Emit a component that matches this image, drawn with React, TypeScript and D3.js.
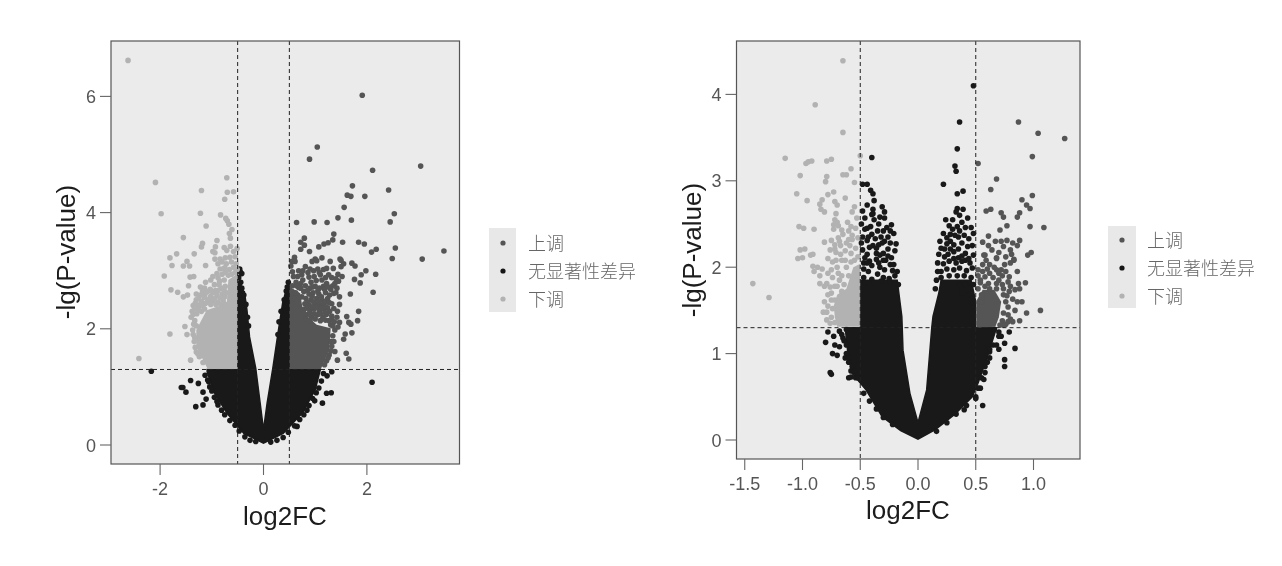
import React from "react";
import * as d3 from "d3";

type P = [number, number];

const legendLabels = ["上调", "无显著性差异", "下调"];
const tickXA = [-2, 0, 2];
const tickYA = [0, 2, 4, 6];
const tickXB = [-1.5, -1.0, -0.5, 0, 0.5, 1.0];
const tickYB = [0, 1, 2, 3, 4];

// ---------- Panel A: dense cores (visual envelope of the overplotted dots)
const coreNsA: P[] = [[-0.5,2.73],[-0.37,2.64],[-0.32,2.32],[-0.27,1.86],[-0.15,1.32],[-0.065,0.72],[0,0.26],[0.07,0.72],[0.18,1.32],[0.29,1.98],[0.37,2.44],[0.48,2.81],[0.5,2.78],[0.5,1.3],[1.1,1.3],[1.0,0.95],[0.76,0.56],[0.38,0.2],[0,0.03],[-0.38,0.2],[-0.7,0.54],[-0.95,0.89],[-1.09,1.26],[-1.09,1.3],[-0.5,1.3]];
const coreUpA: P[] = [[0.5,2.73],[0.71,2.61],[0.77,2.27],[1.03,2.07],[1.3,2.01],[1.27,1.64],[1.11,1.31],[0.5,1.31]];
const coreDownA: P[] = [[-0.5,2.95],[-0.68,2.84],[-0.71,2.44],[-1.1,2.32],[-1.3,1.98],[-1.3,1.69],[-1.08,1.31],[-0.5,1.31]];

const upA: P[] = [[1.91,6.02],[1.04,5.13],[0.89,4.92],[3.04,4.8],[2.11,4.73],[1.72,4.46],[2.42,4.39],[1.62,4.3],[1.69,4.28],[1.96,4.28],[1.56,4.09],[2.53,3.98],[1.44,3.91],[1.7,3.87],[2.45,3.84],[0.64,3.83],[0.98,3.84],[1.23,3.83],[1.36,3.63],[1.34,3.53],[0.79,3.56],[0.72,3.49],[0.79,3.44],[0.72,3.37],[0.89,3.33],[1.07,3.41],[1.17,3.46],[1.25,3.48],[1.53,3.49],[1.84,3.49],[1.95,3.46],[2.09,3.32],[2.18,3.37],[2.55,3.39],[3.49,3.34],[2.49,3.21],[3.07,3.2],[0.6,3.23],[1.0,3.2],[1.13,3.22],[1.48,3.2],
[0.55,3.16],[0.53,3.08],[0.61,3.16],[0.81,3.07],[0.94,3.16],[1.03,3.17],[1.29,3.16],[1.5,3.18],[1.55,3.12],[1.35,3.04],[1.5,3.07],[1.71,3.13],[1.77,3.08],[1.98,3.0],[1.89,2.93],[2.17,2.94],[1.76,2.85],[1.87,2.79],[2.12,2.63],[1.68,2.6],[1.47,2.55],[1.84,2.3],[1.61,2.21],[1.82,2.14],[1.65,2.11],[1.69,2.08],[1.47,2.11],[1.71,1.93],[1.58,1.91],[1.55,1.82],[1.38,1.61],[1.6,1.58],[1.43,1.46],[1.65,1.48],
[0.56,2.98],[0.68,3.0],[0.58,2.9],[0.74,2.93],[0.86,2.97],[0.97,3.0],[1.05,3.03],[1.16,3.02],[1.22,3.04],[0.88,2.89],[0.98,2.9],[1.1,2.93],[1.26,2.93],[1.32,2.88],[1.44,2.94],[1.52,2.9],[0.63,2.8],[0.76,2.84],[0.92,2.8],[1.02,2.83],[1.13,2.84],[1.22,2.78],[1.38,2.78],[1.45,2.82],[0.56,2.74],[0.68,2.71],[0.81,2.74],[0.9,2.7],[1.0,2.73],[1.08,2.7],[1.16,2.73],[1.3,2.68],[1.42,2.7],[0.78,2.64],[0.88,2.6],[0.96,2.62],[1.07,2.6],[1.2,2.62],[1.28,2.58],[1.36,2.61],[0.82,2.52],[0.92,2.5],[1.03,2.52],[1.13,2.5],[1.24,2.52],[0.8,2.43],[0.88,2.41],[1.0,2.42],[1.1,2.41],[1.17,2.44],[1.32,2.43],[1.47,2.42],[0.79,2.34],[0.9,2.32],[0.98,2.34],[1.08,2.3],[1.16,2.34],[1.24,2.36],[1.36,2.35],[1.43,2.3],[0.84,2.24],[0.93,2.2],[1.05,2.24],[1.15,2.2],[1.22,2.25],[1.32,2.22],[1.42,2.2],[1.37,2.12],[1.3,2.07],[1.38,1.98],[1.34,1.88],[1.3,1.78],[1.32,1.7],[1.27,1.55],[1.22,1.45],[1.18,1.38],[1.34,2.05],
[0.62,2.62],[0.58,2.52],[0.72,2.78],[0.66,2.9],[0.85,2.66],[0.74,2.55],[0.95,2.72],[1.05,2.65],[1.12,2.55],[1.18,2.68],[1.26,2.72],[1.34,2.74],[1.4,2.62],[0.94,2.56],[0.86,2.45],[0.97,2.46],[1.07,2.46],[1.2,2.47],[1.27,2.45],[0.84,2.36],[0.94,2.38],[1.03,2.37],[1.12,2.36],[1.2,2.38],[0.78,2.27],[0.89,2.27],[0.98,2.26],[1.1,2.26],[1.19,2.28],[1.28,2.3],[0.82,2.17],[0.9,2.14],[1.0,2.17],[1.1,2.14],[1.2,2.15],[1.27,2.14],[1.32,2.16],[1.44,2.03],[1.36,1.78],[1.3,1.62],[1.25,1.5],[0.72,2.7],[0.76,3.0],[0.9,3.03],[1.08,2.97],[1.2,2.88],[1.4,2.86],[0.64,2.74]];

const downA: P[] = [[-2.62,6.62],[-2.09,4.52],[-1.98,3.98],[-1.2,4.38],[-1.22,3.99],[-0.71,4.6],[-0.7,4.35],[-0.58,4.36],[-0.75,4.23],[-0.83,3.96],[-0.73,3.9],[-0.7,3.86],[-0.67,3.8],[-1.11,3.77],[-0.61,3.71],[-0.66,3.64],[-0.64,3.56],[-1.55,3.57],[-0.9,3.52],[-1.18,3.47],[-1.2,3.41],[-0.93,3.41],[-0.98,3.33],[-0.94,3.31],[-0.76,3.4],[-0.71,3.35],[-0.64,3.42],[-0.58,3.33],[-0.51,3.38],[-1.34,3.29],[-1.68,3.29],[-1.81,3.22],[-0.94,3.2],[-0.84,3.2],[-0.74,3.22],[-0.65,3.23],[-0.55,3.24],
[-1.48,3.16],[-1.55,3.08],[-1.43,3.08],[-1.77,3.09],[-1.12,3.09],[-1.92,2.91],[-1.42,2.89],[-1.35,2.9],[-1.79,2.67],[-1.66,2.63],[-1.45,2.74],[-1.55,2.55],[-1.47,2.58],[-1.81,1.91],[-1.52,2.04],[-1.48,1.9],[-1.41,1.46],[-2.41,1.49],
[-0.88,3.12],[-0.8,3.15],[-0.72,3.12],[-0.62,3.15],[-0.53,3.12],[-0.84,3.03],[-0.75,3.05],[-0.66,3.02],[-0.58,3.06],[-0.51,3.02],[-0.9,2.95],[-0.8,2.94],[-0.73,2.97],[-1.02,2.84],[-1.12,2.8],[-0.95,2.76],[-0.85,2.82],[-0.76,2.84],[-1.22,2.72],[-1.14,2.7],[-1.03,2.68],[-0.93,2.66],[-0.82,2.7],[-0.74,2.73],[-1.3,2.6],[-1.22,2.58],[-1.13,2.6],[-1.02,2.56],[-0.9,2.58],[-0.8,2.6],[-0.75,2.55],[-1.3,2.5],[-1.2,2.47],[-1.08,2.48],[-0.98,2.48],[-0.88,2.45],[-0.78,2.48],[-1.36,2.4],[-1.26,2.38],[-1.17,2.4],[-1.38,2.3],[-1.29,2.26],[-1.2,2.3],[-1.4,2.2],[-1.33,2.14],[-1.3,2.05],[-1.36,1.9],[-1.34,1.78],[-1.3,1.6],[-1.24,1.52],[-1.17,1.42],
[-0.98,2.9],[-0.88,2.88],[-0.78,3.03],[-0.86,2.76],[-0.98,2.62],[-1.08,2.64],[-1.18,2.65],[-0.88,2.66],[-0.76,2.66],[-0.72,2.62],[-0.84,2.53],[-0.94,2.52],[-1.04,2.52],[-1.14,2.54],[-1.25,2.53],[-1.12,2.44],[-1.02,2.42],[-0.92,2.42],[-0.82,2.42],[-0.74,2.42],[-1.22,2.42],[-1.32,2.44],[-1.33,2.34],[-1.25,2.33],[-1.14,2.34],[-1.36,2.25],[-1.35,2.08],[-1.37,1.98],[-1.33,1.85],[-1.32,1.68],[-1.27,1.57],[-0.68,2.92],[-0.62,2.94],[-0.55,2.97]];

const nsTopA: P[] = [[-0.46,3.03],[-0.45,2.98],[-0.42,2.95],[-0.48,2.88],[-0.44,2.8],[-0.47,2.76],[-0.42,2.7],[-0.38,2.58],[-0.34,2.42],[-0.31,2.2],[-0.29,2.05],[0.4,2.5],[0.44,2.65],[0.46,2.72],[0.48,2.8],[0.34,2.3],[0.3,2.12],[0.28,1.9]];
const nsEdgeA: P[] = [[-2.17,1.27],[-1.41,1.11],[-1.59,0.99],[-1.56,0.99],[-1.5,0.91],[-1.26,1.06],[-1.17,0.91],[-1.11,0.79],[-1.17,0.69],[-1.31,0.66],[-0.88,0.69],[-1.06,1.09],[-1.13,1.2],[-1.08,1.12],[-1.04,1.0],[-1.0,0.93],[-0.95,0.82],[-0.9,0.75],[-0.81,0.6],[-0.75,0.52],[-0.65,0.42],[-0.55,0.34],[-0.47,0.24],[-0.36,0.14],[-0.26,0.08],[-0.15,0.06],[2.1,1.08],[1.32,1.26],[1.23,1.19],[1.31,0.9],[1.22,0.89],[1.14,0.72],[0.99,0.76],[0.65,0.32],[0.84,0.6],[1.16,1.23],[1.12,1.1],[1.07,0.98],[1.02,0.9],[0.95,0.8],[0.88,0.68],[0.78,0.52],[0.7,0.44],[0.6,0.33],[0.48,0.22],[0.38,0.13],[0.26,0.08],[0.14,0.05]];

// ---------- Panel B
const coreNsB: P[] = [[-0.5,1.85],[-0.18,1.85],[-0.14,1.43],[-0.13,1.04],[-0.07,0.54],[0,0.2],[0.075,0.58],[0.12,1.31],[0.13,1.43],[0.18,1.7],[0.2,1.85],[0.46,1.85],[0.5,1.6],[0.5,1.3],[0.68,1.3],[0.6,0.96],[0.52,0.66],[0.47,0.5],[0.32,0.3],[0.15,0.12],[0,0.01],[-0.15,0.11],[-0.31,0.27],[-0.45,0.58],[-0.57,0.77],[-0.61,1.04],[-0.63,1.3],[-0.5,1.3]];
const coreUpB: P[] = [[0.51,1.3],[0.51,1.62],[0.56,1.74],[0.66,1.74],[0.72,1.6],[0.7,1.42],[0.67,1.31]];
const coreDownB: P[] = [[-0.5,2.04],[-0.56,2.0],[-0.62,1.75],[-0.7,1.68],[-0.73,1.55],[-0.72,1.42],[-0.7,1.31],[-0.5,1.31]];

const upB: P[] = [[0.87,3.68],[1.04,3.55],[1.27,3.49],[0.99,3.28],[0.52,3.2],[0.68,3.02],[0.63,2.9],[0.99,2.83],[0.9,2.78],[0.94,2.72],[0.97,2.68],[0.59,2.65],[0.63,2.67],[0.72,2.63],[0.74,2.58],[0.88,2.63],[0.86,2.58],[0.77,2.48],[0.97,2.47],[1.09,2.46],[0.71,2.43],[0.61,2.36],[0.56,2.29],[0.61,2.25],[0.77,2.31],[0.74,2.24],[0.82,2.28],[0.88,2.31],[0.86,2.25],[0.8,2.2],[0.81,2.15],[0.98,2.17],[0.95,2.14],[0.57,2.14],[0.68,2.11],[0.83,2.09],[0.83,2.08],[0.58,2.14],[0.68,2.1],[0.75,2.03],[0.68,1.97],[0.72,1.97],[0.62,1.93],[0.58,1.89],[0.52,1.97],[0.54,1.85],[0.79,1.89],[0.78,1.83],[0.87,1.81],[0.93,1.82],[0.86,1.6],[0.79,1.72],[0.74,1.75],[0.68,1.81],[0.61,1.81],[0.94,1.47],[1.06,1.5],[0.88,1.38],[0.82,1.37],[0.78,1.37],[0.74,1.47],[0.78,1.54],[0.52,1.75],[0.58,1.78],[0.65,1.88],[0.74,1.68],[0.76,1.6],[0.78,1.45],[0.73,1.38],[0.71,1.33],[0.55,1.68],[0.73,1.9],[0.7,1.85],[0.56,2.03],[0.62,2.03],
[0.55,1.6],[0.52,1.9],[0.56,1.95],[0.6,1.98],[0.66,2.0],[0.7,1.93],[0.76,1.95],[0.8,1.78],[0.84,1.74],[0.82,1.63],[0.77,1.67],[0.73,1.8],[0.62,1.75],[0.68,1.75],[0.54,1.82],[0.59,2.08],[0.64,2.2],[0.7,2.17],[0.76,2.12],[0.72,2.3],[0.67,2.3],[0.8,2.05],[0.86,1.95],[0.88,1.75],[0.84,1.5],[0.8,1.4],[0.76,1.34],[0.74,1.33],[0.9,1.6]];

const downB: P[] = [[-0.65,4.39],[-0.89,3.88],[-0.65,3.56],[-1.15,3.26],[-0.97,3.2],[-0.95,3.22],[-0.92,3.23],[-0.79,3.23],[-0.75,3.25],[-0.5,3.29],[-0.58,3.14],[-0.62,3.07],[-0.65,3.07],[-1.02,3.06],[-0.79,3.05],[-0.8,2.99],[-0.55,2.98],[-1.05,2.85],[-0.73,2.87],[-0.78,2.84],[-0.96,2.77],[-0.83,2.78],[-0.85,2.73],[-0.63,2.8],[-0.72,2.76],[-0.7,2.72],[-0.84,2.67],[-0.81,2.64],[-0.55,2.7],[-0.57,2.64],[-0.53,2.57],[-0.71,2.62],[-1.03,2.47],[-0.99,2.45],[-0.9,2.44],[-0.72,2.55],[-0.7,2.52],[-0.73,2.49],[-0.69,2.48],[-0.73,2.44],[-0.61,2.52],[-0.58,2.47],[-0.66,2.43],[-0.57,2.37],[-0.65,2.38],[-0.57,2.32],[-0.69,2.34],[-0.81,2.29],[-0.75,2.31],[-0.72,2.26],[-0.72,2.21],[-0.71,2.17],[-0.59,2.25],[-0.63,2.19],[-0.58,2.16],[-0.98,2.21],[-1.02,2.2],[-0.93,2.14],[-0.91,2.15],[-1.04,2.1],[-1.0,2.11],[-0.78,2.1],[-0.66,2.08],[-1.43,1.81],[-1.29,1.65],
[-0.91,2.01],[-0.87,2.0],[-0.83,1.98],[-0.78,1.93],[-0.79,1.81],[-0.85,1.81],[-0.81,1.78],[-0.76,1.77],[-0.71,2.08],[-0.7,2.0],[-0.69,1.93],[-0.68,1.85],[-0.72,1.78],[-0.66,1.9],[-0.62,2.0],[-0.63,2.08],[-0.58,2.06],[-0.75,1.7],[-0.81,1.6],[-0.78,1.55],[-0.75,1.62],[-0.82,1.48],[-0.79,1.39],[-0.75,1.42],[-0.72,1.36],
[-0.6,2.32],[-0.6,2.42],[-0.54,2.45],[-0.52,2.34],[-0.54,2.22],[-0.52,2.12],[-0.55,2.08],[-0.67,2.25],[-0.67,2.15],[-0.76,2.2],[-0.74,2.06],[-0.75,1.97],[-0.74,1.88],[-0.7,1.78],[-0.78,1.68],[-0.74,1.52],[-0.79,1.48],[-0.76,1.35],[-0.68,2.3],[-0.62,2.28],[-0.85,1.9],[-0.9,1.95],[-0.6,1.9],[-0.64,1.8],[-0.66,1.72],[-0.72,1.62]];

const nsTopB: P[] = [[0.48,4.1],[0.36,3.68],[-0.4,3.27],[0.34,3.37],[0.32,3.17],[0.33,3.11],[0.22,2.96],[0.34,2.85],[0.39,2.88],[-0.48,2.96],[-0.44,2.96],[-0.41,2.89],[-0.39,2.85],[-0.38,2.77],[-0.44,2.72],[-0.31,2.7],[-0.48,2.65],[-0.39,2.67],[-0.39,2.62],[-0.29,2.64],[-0.29,2.57],[-0.46,2.57],[-0.4,2.61],[-0.23,2.49],[-0.34,2.5],[-0.46,2.44],[-0.21,2.39],[-0.26,2.35],[-0.4,2.38],[-0.43,2.35],[-0.44,2.31],[-0.49,2.28],[-0.32,2.35],[-0.29,2.3],[-0.39,2.25],[-0.34,2.26],[-0.31,2.28],[-0.26,2.21],[-0.2,2.19],[-0.44,2.15],[-0.36,2.16],[-0.33,2.14],[-0.46,2.11],[-0.3,2.16],[-0.23,2.11],
[0.34,2.68],[0.33,2.64],[0.39,2.67],[0.43,2.57],[0.38,2.52],[0.34,2.47],[0.27,2.48],[0.48,2.39],[0.22,2.39],[0.28,2.38],[0.35,2.35],[0.28,2.3],[0.19,2.3],[0.23,2.21],[0.28,2.21],[0.31,2.18],[0.35,2.21],[0.41,2.16],[0.48,2.14],[0.23,2.12],[0.35,2.11],[0.41,2.08],
[-0.47,2.05],[-0.42,2.07],[-0.36,2.09],[-0.28,2.08],[-0.24,2.03],[-0.47,1.98],[-0.43,1.95],[-0.33,2.0],[-0.29,1.97],[-0.22,1.96],[-0.2,1.9],[-0.47,1.88],[-0.4,1.86],[-0.35,1.92],[-0.3,1.88],[-0.25,1.87],[-0.17,1.8],[-0.46,1.82],[-0.38,1.82],[-0.32,1.84],[-0.24,1.83],
[0.22,2.04],[0.27,2.07],[0.33,2.05],[0.38,2.07],[0.45,2.05],[0.2,1.95],[0.25,1.98],[0.31,1.97],[0.36,1.99],[0.42,1.96],[0.47,1.99],[0.2,1.88],[0.27,1.9],[0.34,1.9],[0.4,1.9],[0.46,1.88],[0.36,1.8],[0.41,1.8],[0.48,1.8],[0.38,1.7],[0.44,1.68],[0.47,1.6],
[-0.48,2.2],[-0.42,2.23],[-0.36,2.22],[-0.3,2.08],[-0.26,2.13],[-0.21,2.03],[-0.18,1.95],[-0.4,2.02],[-0.34,2.05],[-0.44,2.05],[-0.48,2.35],[-0.37,2.33],[-0.35,2.42],[-0.3,2.42],[-0.27,2.46],[-0.41,2.47],[-0.38,2.55],[-0.33,2.58],[-0.49,2.5],[-0.44,2.45],[-0.24,2.28],[-0.19,2.27],[-0.24,2.42],
[0.18,2.15],[0.17,2.05],[0.2,2.22],[0.26,2.15],[0.31,2.1],[0.38,2.13],[0.44,2.1],[0.25,2.27],[0.31,2.26],[0.38,2.28],[0.43,2.24],[0.47,2.25],[0.25,2.34],[0.32,2.37],[0.4,2.37],[0.44,2.33],[0.3,2.44],[0.36,2.42],[0.41,2.46],[0.46,2.46],[0.17,1.95],[0.16,1.85],[0.15,1.75],[0.24,2.55],[0.3,2.55],[0.36,2.6]];
const nsEdgeB: P[] = [[-0.78,1.25],[-0.8,1.13],[-0.73,1.2],[-0.72,1.1],[-0.74,1.0],[-0.7,0.98],[-0.68,1.08],[-0.76,0.78],[-0.75,0.76],[-0.6,0.72],[-0.58,0.73],[-0.66,1.22],[-0.64,1.15],[-0.63,0.95],[-0.6,0.9],[-0.58,0.8],[-0.54,0.72],[-0.47,0.54],[-0.42,0.45],[-0.36,0.36],[-0.3,0.26],[-0.22,0.18],[-0.68,1.26],[-0.62,1.28],[-0.65,1.18],[-0.62,1.1],[-0.62,1.0],[-0.6,0.95],[-0.57,0.85],[-0.55,0.8],[-0.52,0.72],
[0.79,1.25],[0.75,1.12],[0.72,1.2],[0.7,1.05],[0.84,1.06],[0.75,0.93],[0.75,0.85],[0.7,1.25],[0.65,1.1],[0.62,1.02],[0.6,0.9],[0.58,0.78],[0.57,0.7],[0.54,0.6],[0.5,0.5],[0.56,0.4],[0.5,0.48],[0.42,0.4],[0.33,0.3],[0.25,0.2],[0.16,0.1],[0.66,1.28],[0.7,1.2],[0.68,1.1],[0.62,1.05],[0.62,0.95],[0.58,0.85],[0.55,0.72],[0.52,0.6],[0.4,0.35]];

const LEGEND_COLORS = ["#555555", "#161616", "#b2b2b2"];
const NS = "#191919", UP = "#555555", DOWN = "#b2b2b2";
const SANS = "'Liberation Sans', Arial, sans-serif";
const R = 2.8;

interface PanelProps {
  box: { l: number; r: number; t: number; b: number };
  xDom: [number, number]; yDom: [number, number];
  xTicks: number[]; yTicks: number[];
  fmt: (v: number) => string;
  coreNs: P[]; coreUp: P[]; coreDown: P[];
  ns: P[]; up: P[]; down: P[];
  titleX: number; titleXY: number; titleYX: number; titleYY: number;
  legend: { x0: number; x1: number; y0: number; y1: number; dotX: number; textX: number; rows: number[] };
}

function Panel(p: PanelProps) {
  const { box } = p;
  const x = d3.scaleLinear().domain(p.xDom).range([box.l, box.r]);
  const y = d3.scaleLinear().domain(p.yDom).range([box.b, box.t]);
  const line = d3.line<P>().x(d => x(d[0])).y(d => y(d[1])).curve(d3.curveLinearClosed);
  const dots = (pts: P[], fill: string) => pts.map((d, i) => <circle key={i} cx={x(d[0])} cy={y(d[1])} r={R} fill={fill} />);
  const dash = "4 3";
  return (
    <g>
      <rect x={box.l} y={box.t} width={box.r - box.l} height={box.b - box.t} fill="#ebebeb" />
      <path d={line(p.coreNs) || ""} fill={NS} stroke={NS} strokeWidth={1.5} />
      <g>{dots(p.ns, NS)}</g>
      <path d={line(p.coreUp) || ""} fill={UP} />
      <g>{dots(p.up, UP)}</g>
      <path d={line(p.coreDown) || ""} fill={DOWN} />
      <g>{dots(p.down, DOWN)}</g>
      <line x1={x(-0.5)} x2={x(-0.5)} y1={box.t} y2={box.b} stroke="#222" strokeDasharray={dash} />
      <line x1={x(0.5)} x2={x(0.5)} y1={box.t} y2={box.b} stroke="#222" strokeDasharray={dash} />
      <line x1={box.l} x2={box.r} y1={y(1.3)} y2={y(1.3)} stroke="#222" strokeDasharray={dash} />
      <rect x={box.l} y={box.t} width={box.r - box.l} height={box.b - box.t} fill="none" stroke="#555" strokeWidth={1.2} />
      {p.xTicks.map(t => (
        <g key={t}>
          <line x1={x(t)} x2={x(t)} y1={box.b} y2={box.b + 11} stroke="#666" strokeWidth={1.1} />
          <text x={x(t)} y={box.b + 31} textAnchor="middle" fontFamily={SANS} fontSize={18} fill="#555">{p.fmt(t)}</text>
        </g>
      ))}
      {p.yTicks.map(t => (
        <g key={t}>
          <line x1={box.l - 11} x2={box.l} y1={y(t)} y2={y(t)} stroke="#666" strokeWidth={1.1} />
          <text x={box.l - 15} y={y(t) + 6.5} textAnchor="end" fontFamily={SANS} fontSize={18} fill="#555">{t}</text>
        </g>
      ))}
      <text x={p.titleX} y={p.titleXY} textAnchor="middle" fontFamily={SANS} fontSize={26} fill="#1c1c1c">log2FC</text>
      <text transform={`translate(${p.titleYX},${p.titleYY}) rotate(-90)`} textAnchor="middle" fontFamily={SANS} fontSize={26} fill="#1c1c1c">-lg(P-value)</text>
      <rect x={p.legend.x0} y={p.legend.y0} width={p.legend.x1 - p.legend.x0} height={p.legend.y1 - p.legend.y0} fill="#e8e8e8" />
      {legendLabels.map((lab, i) => (
        <g key={lab}>
          <circle cx={p.legend.dotX} cy={p.legend.rows[i]} r={2.6} fill={LEGEND_COLORS[i]} />
          <text x={p.legend.textX} y={p.legend.rows[i] + 7} fontFamily="'Noto Sans CJK SC', sans-serif" fontWeight={300} fontSize={18} fill="#666">{lab}</text>
        </g>
      ))}
    </g>
  );
}

export default function App() {
  const hyphen = (s: string) => s.replace("\u2212", "-");
  const fmtInt = (v: number) => hyphen(d3.format("d")(v));
  const fmt1 = (v: number) => hyphen(d3.format(".1f")(v));
  return (
    <svg width={1282} height={566} style={{ position: "absolute", left: 0, top: 0, filter: "blur(0.45px)", background: "#fff" }}>
      <Panel
        box={{ l: 111, r: 459.5, t: 41, b: 464 }}
        xDom={[(111 - 263.5) / 51.7, (459.5 - 263.5) / 51.7]}
        yDom={[(445 - 464) / 58.1, (445 - 41) / 58.1]}
        xTicks={tickXA} yTicks={tickYA} fmt={fmtInt}
        coreNs={coreNsA} coreUp={coreUpA} coreDown={coreDownA}
        ns={[...nsTopA, ...nsEdgeA]} up={upA} down={downA}
        titleX={285} titleXY={525} titleYX={75} titleYY={252}
        legend={{ x0: 489, x1: 516, y0: 228, y1: 312, dotX: 503, textX: 528, rows: [243, 271, 299] }}
      />
      <Panel
        box={{ l: 736.5, r: 1080, t: 41, b: 459 }}
        xDom={[(736.5 - 918) / 115.5, (1080 - 918) / 115.5]}
        yDom={[(440 - 459) / 86.4, (440 - 41) / 86.4]}
        xTicks={tickXB} yTicks={tickYB} fmt={fmt1}
        coreNs={coreNsB} coreUp={coreUpB} coreDown={coreDownB}
        ns={[...nsTopB, ...nsEdgeB]} up={upB} down={downB}
        titleX={908} titleXY={519} titleYX={701} titleYY={250}
        legend={{ x0: 1108, x1: 1136, y0: 226, y1: 308, dotX: 1122, textX: 1147, rows: [240, 268, 296] }}
      />
    </svg>
  );
}
